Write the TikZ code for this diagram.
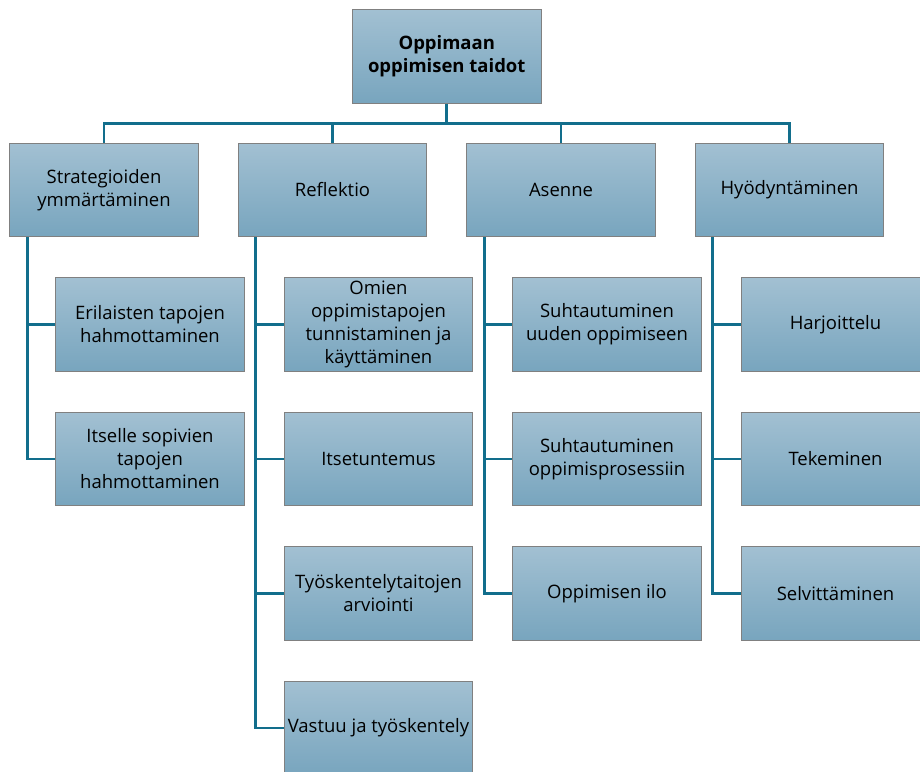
\documentclass[tikz,border=0pt]{standalone}
\usepackage{fontspec}
\setmainfont{Open Sans}
\usetikzlibrary{positioning}
\usetikzlibrary{calc}
\definecolor{boxtop}{RGB}{162,192,210}
\definecolor{boxbot}{RGB}{120,165,190}
\definecolor{boxline}{RGB}{128,128,128}
\definecolor{linkcol}{RGB}{18,110,140}
\tikzset{
  box/.style={draw=boxline, line width=1pt, top color=boxtop, bottom color=boxbot,
    minimum width=188.5pt, minimum height=93.5pt, align=center, inner sep=2pt,
    font=\fontsize{18.5}{23}\selectfont},
  rootbox/.style={box, font=\fontsize{18.5}{23}\selectfont\bfseries},
  link/.style={draw=linkcol, line width=2.6pt}
}
\begin{document}
\begin{tikzpicture}
% first level
\node[box] (strat) at (0,0) {Strategioiden\\ymmärtäminen};
\node[box, right=39pt of strat] (refl) {Reflektio};
\node[box, right=39pt of refl] (asen) {Asenne};
\node[box, right=39pt of asen] (hyod) {Hyödyntäminen};
\coordinate (mid) at ($(refl.north)!0.5!(asen.north)$);
\node[rootbox, above=39pt of mid] (root) {Oppimaan\\oppimisen taidot};
\useasboundingbox ($(strat.center)+(-104pt,190pt)$) rectangle ++(920pt,-771pt);

% second level
\node[box, below=40pt of strat, xshift=46pt] (strat1) {Erilaisten tapojen\\hahmottaminen};
\node[box, below=40pt of strat1] (strat2) {Itselle sopivien\\tapojen\\hahmottaminen};
\node[box, below=40pt of refl, xshift=46pt] (refl1) {Omien\\oppimistapojen\\tunnistaminen ja\\käyttäminen};
\node[box, below=40pt of refl1] (refl2) {Itsetuntemus};
\node[box, below=40pt of refl2] (refl3) {Työskentelytaitojen\\arviointi};
\node[box, below=40pt of refl3] (refl4) {Vastuu ja työskentely};
\node[box, below=40pt of asen, xshift=46pt] (asen1) {Suhtautuminen\\uuden oppimiseen};
\node[box, below=40pt of asen1] (asen2) {Suhtautuminen\\oppimisprosessiin};
\node[box, below=40pt of asen2] (asen3) {Oppimisen ilo};
\node[box, below=40pt of hyod, xshift=46pt] (hyod1) {Harjoittelu};
\node[box, below=40pt of hyod1] (hyod2) {Tekeminen};
\node[box, below=40pt of hyod2] (hyod3) {Selvittäminen};

% connectors
\coordinate (bus) at ($(root.south)+(0,-20pt)$);
\draw[link] (root.south) -- (bus);
\foreach \n in {strat,refl,asen,hyod}
  \draw[link] (bus) -| (\n.north);
\foreach \p/\c in {strat/strat1,strat/strat2,refl/refl1,refl/refl2,refl/refl3,refl/refl4,
                   asen/asen1,asen/asen2,asen/asen3,hyod/hyod1,hyod/hyod2,hyod/hyod3}
  \draw[link] ([xshift=18pt]\p.south west) |- (\c.west);
\end{tikzpicture}
\end{document}
